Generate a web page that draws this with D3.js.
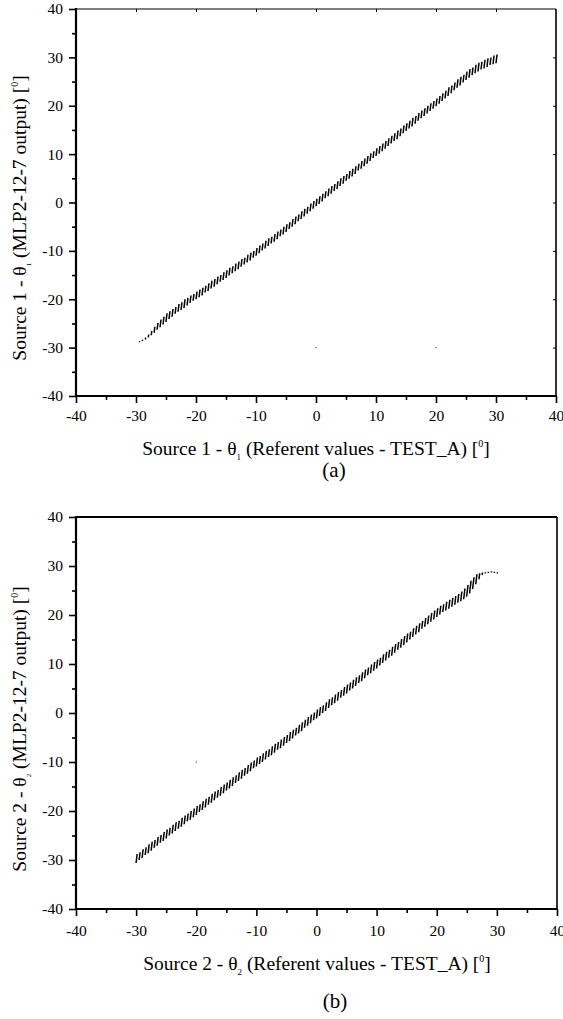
<!DOCTYPE html>
<html>
<head>
<meta charset="utf-8">
<script src="https://cdn.jsdelivr.net/npm/d3@7"></script>
<style>
  body { margin: 0; background: #fff; }
  svg { display: block; }
  text { font-family: "Liberation Serif", "Times New Roman", serif; fill: #000; }
</style>
</head>
<body>
<svg id="chart" width="563" height="1019"></svg>
<script>
// Axis ticks shared by both panels
const majorTicks = [-40, -30, -20, -10, 0, 10, 20, 30, 40];
const minorTicks = [-35, -25, -15, -5, 5, 15, 25, 35];

// Panel (a): Source 1, referent angle vs. network output (centre of each cluster) and half-spread
const refA = [-29.5,-29,-28.5,-28,-27.5,-27,-26.5,-26,-25.5,-25,-24.5,-24,-23.5,-23,-22.5,-22,-21.5,-21,-20.5,-20,
  -19.5,-19,-18.5,-18,-17.5,-17,-16.5,-16,-15.5,-15,-14.5,-14,-13.5,-13,-12.5,-12,-11.5,-11,-10.5,-10,
  -9.5,-9,-8.5,-8,-7.5,-7,-6.5,-6,-5.5,-5,-4.5,-4,-3.5,-3,-2.5,-2,-1.5,-1,-0.5,0,
  0.5,1,1.5,2,2.5,3,3.5,4,4.5,5,5.5,6,6.5,7,7.5,8,8.5,9,9.5,10,
  10.5,11,11.5,12,12.5,13,13.5,14,14.5,15,15.5,16,16.5,17,17.5,18,18.5,19,19.5,20,
  20.5,21,21.5,22,22.5,23,23.5,24,24.5,25,25.5,26,26.5,27,27.5,28,28.5,29,29.5,30];
const outA = [-28.8,-28.5,-28.1,-27.6,-27.0,-26.3,-25.6,-25.0,-24.4,-23.8,-23.3,-22.8,-22.3,-21.8,-21.4,-20.9,-20.5,-20.0,-19.6,-19.2,
  -18.8,-18.4,-17.9,-17.5,-17.0,-16.6,-16.1,-15.7,-15.2,-14.8,-14.3,-13.9,-13.4,-13.0,-12.5,-12.1,-11.6,-11.2,-10.7,-10.2,
  -9.7,-9.2,-8.7,-8.2,-7.8,-7.3,-6.8,-6.3,-5.8,-5.3,-4.8,-4.2,-3.7,-3.2,-2.6,-2.1,-1.6,-1.0,-0.5,0.0,
  0.5,1.0,1.6,2.1,2.6,3.1,3.6,4.2,4.7,5.2,5.7,6.2,6.7,7.3,7.8,8.3,8.8,9.4,9.9,10.4,
  10.9,11.4,11.9,12.5,13.0,13.5,14.0,14.5,15.1,15.6,16.1,16.6,17.1,17.7,18.2,18.7,19.2,19.7,20.2,20.7,
  21.2,21.8,22.3,22.9,23.4,24.0,24.6,25.1,25.6,26.2,26.7,27.1,27.6,28.0,28.3,28.6,28.9,29.2,29.5,29.7];
const spreadA = [0.1,0.15,0.2,0.3,0.45,0.6,0.7,0.8,0.8,0.9,0.8,0.8,0.7,0.8,0.8,0.9,0.8,0.8,0.7,0.8,
  0.8,0.8,0.7,0.8,0.8,0.8,0.8,0.7,0.8,0.8,0.8,0.7,0.8,0.8,0.8,0.7,0.8,0.8,0.7,0.8,
  0.8,0.7,0.8,0.8,0.7,0.8,0.8,0.7,0.8,0.8,0.7,0.8,0.8,0.7,0.8,0.8,0.7,0.8,0.8,0.8,
  0.8,0.8,0.7,0.8,0.8,0.7,0.8,0.8,0.8,0.7,0.8,0.8,0.8,0.7,0.8,0.8,0.8,0.8,0.7,0.8,
  0.8,0.8,0.8,0.8,0.8,0.8,0.9,0.8,0.8,0.8,0.8,0.9,0.8,0.8,0.8,0.8,0.8,0.8,0.8,0.8,
  0.8,0.8,0.8,0.9,0.8,0.8,0.9,0.9,0.8,0.9,0.9,0.8,0.9,0.9,0.8,0.9,0.9,0.8,0.9,0.9];
const strayRefA = [0, 20];
const strayOutA = [-30, -30];

// Panel (b): Source 2
const refB = [-30,-29.5,-29,-28.5,-28,-27.5,-27,-26.5,-26,-25.5,-25,-24.5,-24,-23.5,-23,-22.5,-22,-21.5,-21,-20.5,
  -20,-19.5,-19,-18.5,-18,-17.5,-17,-16.5,-16,-15.5,-15,-14.5,-14,-13.5,-13,-12.5,-12,-11.5,-11,-10.5,
  -10,-9.5,-9,-8.5,-8,-7.5,-7,-6.5,-6,-5.5,-5,-4.5,-4,-3.5,-3,-2.5,-2,-1.5,-1,-0.5,
  0,0.5,1,1.5,2,2.5,3,3.5,4,4.5,5,5.5,6,6.5,7,7.5,8,8.5,9,9.5,
  10,10.5,11,11.5,12,12.5,13,13.5,14,14.5,15,15.5,16,16.5,17,17.5,18,18.5,19,19.5,
  20,20.5,21,21.5,22,22.5,23,23.5,24,24.5,25,25.5,26,26.5,27,27.5,28,28.5,29,29.5,30];
const outB = [-29.7,-29.2,-28.7,-28.2,-27.7,-27.2,-26.7,-26.2,-25.7,-25.2,-24.7,-24.2,-23.7,-23.2,-22.8,-22.3,-21.8,-21.3,-20.9,-20.4,
  -19.9,-19.4,-18.9,-18.4,-17.9,-17.4,-16.9,-16.5,-16.0,-15.5,-15.0,-14.5,-14.0,-13.5,-13.0,-12.5,-12.0,-11.5,-11.0,-10.5,
  -10.0,-9.6,-9.1,-8.6,-8.2,-7.7,-7.2,-6.7,-6.3,-5.8,-5.3,-4.8,-4.3,-3.8,-3.3,-2.8,-2.2,-1.7,-1.2,-0.7,
  -0.2,0.3,0.8,1.3,1.9,2.4,2.9,3.4,3.9,4.4,4.9,5.4,5.9,6.4,6.9,7.4,8.0,8.5,9.0,9.5,
  10.0,10.5,11.1,11.6,12.1,12.6,13.2,13.7,14.2,14.8,15.3,15.8,16.4,16.9,17.4,18.0,18.5,19.0,19.5,20.0,
  20.5,21.0,21.4,21.8,22.2,22.6,23.0,23.4,23.8,24.3,24.9,25.7,26.5,27.3,27.9,28.4,28.6,28.7,28.8,28.7,28.6];
const spreadB = [0.9,0.8,0.9,0.8,0.9,0.9,0.8,0.9,0.8,0.9,0.9,0.8,0.9,0.9,0.8,0.9,0.9,0.8,0.9,0.9,
  0.9,0.8,0.9,0.9,0.8,0.9,0.9,0.8,0.9,0.9,0.8,0.9,0.9,0.8,0.9,0.9,0.8,0.9,0.9,0.8,
  0.9,0.8,0.9,0.9,0.8,0.9,0.9,0.8,0.9,0.9,0.8,0.9,0.9,0.8,0.9,0.9,0.8,0.9,0.9,0.8,
  0.9,0.9,0.8,0.9,0.9,0.8,0.9,0.9,0.8,0.9,0.9,0.8,0.9,0.9,0.8,0.9,0.9,0.8,0.9,0.9,
  0.9,0.8,0.9,0.9,0.8,0.9,0.9,0.8,0.9,0.9,0.9,0.8,0.9,0.9,0.9,0.8,0.9,0.9,0.9,0.9,
  0.9,0.9,0.8,0.9,0.9,0.9,0.9,0.9,1.0,1.1,1.2,1.3,1.2,1.0,0.6,0.25,0.15,0.15,0.15,0.15,0.15];
const strayRefB = [-20];
const strayOutB = [-10];

const svg = d3.select("#chart");
const FONT = '"Liberation Serif", "Times New Roman", serif';

function drawPanel(p) {
  const x = d3.scaleLinear().domain([-40, 40]).range([p.left, p.right]);
  const y = d3.scaleLinear().domain([-40, 40]).range([p.bottom, p.top]);
  const g = svg.append("g");

  // clusters of outputs for each referent angle, drawn as short slanted strokes
  g.append("g").attr("transform", "translate(0.5,0)").selectAll("line")
    .data(d3.zip(p.ref, p.out, p.spread))
    .join("line")
    .attr("x1", d => x(d[0])).attr("x2", d => x(d[0]))
    .attr("y1", d => y(d[1] - d[2])).attr("y2", d => y(d[1] + d[2]))
    .attr("transform", d => `translate(${x(d[0])},${y(d[1])}) skewX(-7) translate(${-x(d[0])},${-y(d[1])})`)
    .attr("stroke", "#000").attr("stroke-width", 1.5);

  // isolated outputs
  g.append("g").selectAll("rect")
    .data(d3.zip(p.strayRef, p.strayOut))
    .join("rect")
    .attr("x", d => x(d[0]) - 0.6).attr("y", d => y(d[1]) - 0.6)
    .attr("width", 1.2).attr("height", 1.2).attr("fill", "#555");

  const fmt = d => String(d);

  // bottom and left axes: labelled majors and unlabelled minors
  const bx = g.append("g").attr("transform", `translate(0,${p.bottom})`)
    .call(d3.axisBottom(x).tickValues(majorTicks).tickSize(7).tickPadding(p.xPad).tickSizeOuter(0).tickFormat(fmt));
  const bxm = g.append("g").attr("transform", `translate(0,${p.bottom})`)
    .call(d3.axisBottom(x).tickValues(minorTicks).tickSize(4).tickSizeOuter(0).tickFormat(""));
  const ly = g.append("g").attr("transform", `translate(${p.left},0)`)
    .call(d3.axisLeft(y).tickValues(majorTicks).tickSize(7).tickPadding(6).tickSizeOuter(0).tickFormat(fmt));
  const lym = g.append("g").attr("transform", `translate(${p.left},0)`)
    .call(d3.axisLeft(y).tickValues(minorTicks).tickSize(4).tickSizeOuter(0).tickFormat(""));

  [bx, bxm, ly, lym].forEach(a => {
    a.select(".domain").remove();
    a.selectAll(".tick line").attr("stroke", "#000").attr("stroke-width", 1.6);
    a.selectAll("text").attr("font-family", FONT).attr("font-size", 15.5).attr("fill", "#000");
  });

  if (p.innerTicks) {
    const tx = g.append("g").attr("transform", `translate(0,${p.top})`)
      .call(d3.axisTop(x).tickValues(majorTicks.slice(1, -1)).tickSize(-3).tickSizeOuter(0).tickFormat(""));
    const ry = g.append("g").attr("transform", `translate(${p.right},0)`)
      .call(d3.axisRight(y).tickValues(majorTicks.slice(1, -1)).tickSize(-3).tickSizeOuter(0).tickFormat(""));
    [tx, ry].forEach(a => {
      a.select(".domain").remove();
      a.selectAll(".tick line").attr("stroke", "#000").attr("stroke-width", 1);
    });
  }

  // frame
  g.append("line").attr("x1", p.left).attr("x2", p.right).attr("y1", p.top).attr("y2", p.top)
    .attr("stroke", "#000").attr("stroke-width", p.topWidth);
  g.append("line").attr("x1", p.right).attr("x2", p.right).attr("y1", p.top).attr("y2", p.bottom)
    .attr("stroke", "#000").attr("stroke-width", 1.6);
  g.append("line").attr("x1", p.left).attr("x2", p.left).attr("y1", p.top - 1).attr("y2", p.bottom + 1)
    .attr("stroke", "#000").attr("stroke-width", 2.2);
  g.append("line").attr("x1", p.left - 1).attr("x2", p.right + 1).attr("y1", p.bottom).attr("y2", p.bottom)
    .attr("stroke", "#000").attr("stroke-width", 2.2);

  // x axis title
  const xt = g.append("text").attr("x", p.xTitleX).attr("y", p.xTitleY)
    .attr("text-anchor", "middle").attr("font-size", 19.5);
  xt.append("tspan").text(`Source ${p.src} - θ`);
  xt.append("tspan").attr("dy", 5).attr("font-size", 9).text(p.src);
  xt.append("tspan").attr("dy", -5).text(" (Referent values - TEST_A) [");
  xt.append("tspan").attr("dy", -8).attr("font-size", 10).text("0");
  xt.append("tspan").attr("dy", 8).text("]");

  // y axis title
  const yt = g.append("text")
    .attr("transform", `translate(${p.yTitleX},${p.yTitleY}) rotate(-90)`)
    .attr("text-anchor", "middle").attr("font-size", 19.5);
  yt.append("tspan").text(`Source ${p.src} - θ`);
  yt.append("tspan").attr("dy", 5).attr("font-size", 7).text(p.src);
  yt.append("tspan").attr("dy", -5).text(" (MLP2-12-7 output) [");
  yt.append("tspan").attr("dy", -8).attr("font-size", 10).text("0");
  yt.append("tspan").attr("dy", 8).text("]");

  // panel letter
  g.append("text").attr("x", p.labelX).attr("y", p.labelY)
    .attr("text-anchor", "middle").attr("font-size", 21).text(p.label);
}

drawPanel({
  left: 76, right: 556, top: 9, bottom: 396, xPad: 7, topWidth: 1.2, innerTicks: true,
  ref: refA, out: outA, spread: spreadA, strayRef: strayRefA, strayOut: strayOutA,
  src: "1", xTitleX: 316, xTitleY: 455, yTitleX: 26, yTitleY: 218, label: "(a)", labelX: 334, labelY: 477
});

drawPanel({
  left: 76, right: 557, top: 517, bottom: 909, xPad: 9, topWidth: 2, innerTicks: false,
  ref: refB, out: outB, spread: spreadB, strayRef: strayRefB, strayOut: strayOutB,
  src: "2", xTitleX: 317, xTitleY: 970, yTitleX: 26, yTitleY: 729, label: "(b)", labelX: 335, labelY: 1008
});
</script>
</body>
</html>
